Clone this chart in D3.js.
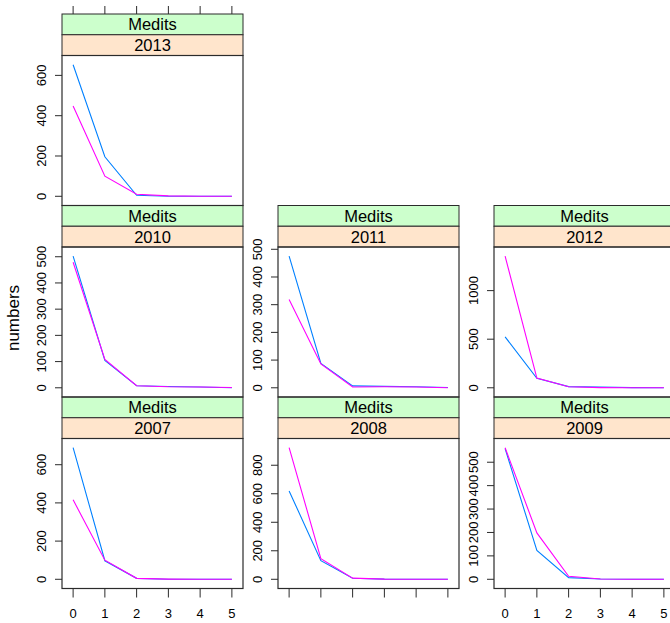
<!DOCTYPE html>
<html>
<head>
<meta charset="utf-8">
<script src="https://cdn.jsdelivr.net/npm/d3@7"></script>
<style>
  body { margin: 0; background: #fff; }
  svg text { font-family: "Liberation Sans", Arial, Helvetica, sans-serif; fill: #000; }
</style>
</head>
<body>
<div id="chart"></div>
<script>
// panels in lattice order: bottom-left first, filling rows upward
const years = ['2007', '2008', '2009', '2010', '2011', '2012', '2013'];
const ages = [0, 1, 2, 3, 4, 5];
const surveyLabel = 'Medits';

const blueValues = [
  [689, 97, 5, 0, 0, 0],
  [620, 131, 7, 1, 0, 0],
  [558, 123, 7, 1, 0, 0],
  [502, 104, 8, 5, 3, 0],
  [475, 88, 7, 5, 4, 1],
  [524, 97, 12, 8, 2, 1],
  [653, 196, 5, 0, 0, 0]
];
const magentaValues = [
  [416, 100, 5, 1, 0, 0],
  [923, 145, 8, 1, 0, 0],
  [562, 198, 13, 1, 0, 0],
  [479, 108, 8, 4, 3, 1],
  [319, 86, 3, 4, 3, 0],
  [1354, 100, 10, 2, 1, 0],
  [448, 100, 10, 2, 0, 0]
];
const yTickValues = [
  [0, 200, 400, 600],
  [0, 200, 400, 600, 800],
  [0, 100, 200, 300, 400, 500],
  [0, 100, 200, 300, 400, 500],
  [0, 100, 200, 300, 400, 500],
  [0, 500, 1000],
  [0, 200, 400, 600]
];
const xTickLabels = ['0', '1', '2', '3', '4', '5'];
const yTitle = 'numbers';

const W = 670, H = 623;
const left0 = 62, colStep = 216, panelW = 181;
const top0 = 14, rowStep = 191.5, stripH = 20.75, plotH = 150;
const nRows = 3, nCols = 3;
const PAD = 0.07;
const border = '#2b2b2b';

const svg = d3.select('#chart').append('svg').attr('width', W).attr('height', H);

const x = d3.scaleLinear()
  .domain([ages[0] - PAD * 5, ages[5] + PAD * 5])
  .range([0, panelW]);

years.forEach((yr, i) => {
  const col = i % nCols;
  const rowFromBottom = Math.floor(i / nCols);
  const row = nRows - 1 - rowFromBottom;
  const px = left0 + col * colStep;
  const py = top0 + row * rowStep;

  const maxV = d3.max(blueValues[i].concat(magentaValues[i]));
  const y = d3.scaleLinear()
    .domain([-PAD * maxV, maxV * (1 + PAD)])
    .range([plotH, 0]);

  const g = svg.append('g').attr('transform', `translate(${px},${py})`);

  // strips
  g.append('rect').attr('width', panelW).attr('height', stripH)
    .attr('fill', '#ccffcc').attr('stroke', border);
  g.append('rect').attr('y', stripH).attr('width', panelW).attr('height', stripH)
    .attr('fill', '#ffe5cc').attr('stroke', border);
  g.append('text').attr('x', panelW / 2).attr('y', stripH / 2 + 6)
    .attr('text-anchor', 'middle').attr('font-size', '16.5px').text(surveyLabel);
  g.append('text').attr('x', panelW / 2).attr('y', stripH * 1.5 + 6)
    .attr('text-anchor', 'middle').attr('font-size', '16.5px').text(yr);

  const p = g.append('g').attr('transform', `translate(0,${2 * stripH})`);
  const clipId = 'clip-' + yr;
  p.append('defs').append('clipPath').attr('id', clipId)
    .append('rect').attr('width', panelW).attr('height', plotH);

  const line = d3.line().x((d, j) => x(ages[j])).y(d => y(d));
  const lines = p.append('g').attr('clip-path', `url(#${clipId})`);
  lines.append('path').datum(blueValues[i]).attr('d', line)
    .attr('fill', 'none').attr('stroke', '#0080ff').attr('stroke-width', 1.1);
  lines.append('path').datum(magentaValues[i]).attr('d', line)
    .attr('fill', 'none').attr('stroke', '#ff00ff').attr('stroke-width', 1.1);

  p.append('rect').attr('width', panelW).attr('height', plotH)
    .attr('fill', 'none').attr('stroke', border).attr('stroke-width', 1.2);

  // left y axis
  const ya = p.append('g');
  yTickValues[i].forEach(v => {
    ya.append('line').attr('x1', -7).attr('x2', 0).attr('y1', y(v)).attr('y2', y(v))
      .attr('stroke', border);
    ya.append('text')
      .attr('transform', `translate(-16,${y(v)}) rotate(-90)`)
      .attr('text-anchor', 'middle').attr('font-size', '13px').text(v);
  });

  // bottom axis on the bottom row, labels alternate
  if (rowFromBottom === 0) {
    ages.forEach((a, j) => {
      p.append('line').attr('x1', x(a)).attr('x2', x(a))
        .attr('y1', plotH).attr('y2', plotH + 9).attr('stroke', border);
      if (col % 2 === 0) {
        p.append('text').attr('x', x(a)).attr('y', plotH + 29)
          .attr('text-anchor', 'middle').attr('font-size', '13px').text(xTickLabels[j]);
      }
    });
  }
  // top ticks on the top panel
  if (row === 0) {
    ages.forEach(a => {
      g.append('line').attr('x1', x(a)).attr('x2', x(a))
        .attr('y1', 0).attr('y2', -8).attr('stroke', border);
    });
  }
});

svg.append('text')
  .attr('transform', 'translate(19,318) rotate(-90)')
  .attr('text-anchor', 'middle').attr('font-size', '17px').text(yTitle);
</script>
</body>
</html>
